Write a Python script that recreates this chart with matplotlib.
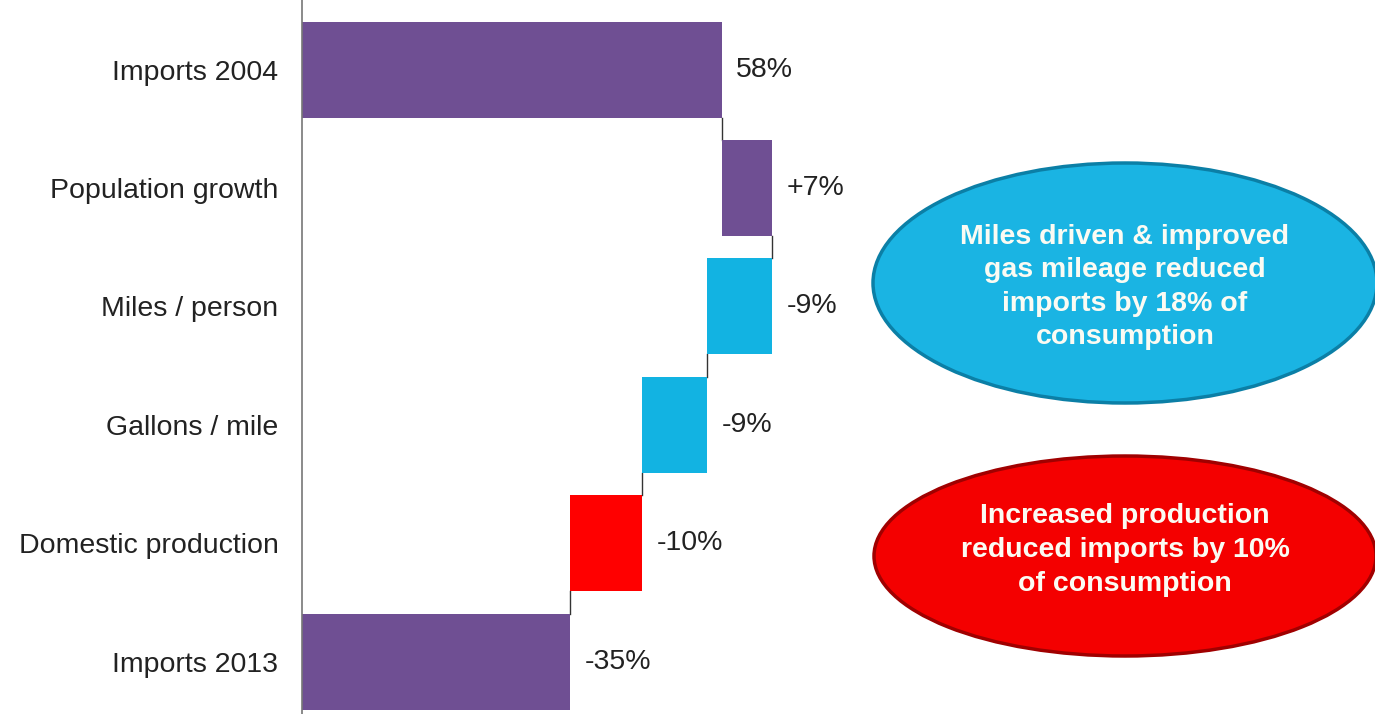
import numpy as np
import matplotlib.pyplot as plt
from matplotlib.patches import Ellipse

plt.rcParams['font.family'] = ['Liberation Sans', 'DejaVu Sans']

# waterfall data
categories = ['Imports 2004', 'Population growth', 'Miles / person',
              'Gallons / mile', 'Domestic production', 'Imports 2013']
changes = [58, 7, -9, -9, -10]
value_labels = ['58%', '+7%', '-9%', '-9%', '-10%', '-35%']
bar_colors = ['#6f4f93', '#6f4f93', '#12b3e2', '#12b3e2', '#ff0000', '#6f4f93']

bubble_texts = ['Miles driven & improved\ngas mileage reduced\nimports by 18% of\nconsumption',
                'Increased production\nreduced imports by 10%\nof consumption']
bubble_colors = ['#1ab4e3', '#f40000']
bubble_edges = ['#0b7fa6', '#a00000']

# starts / ends of each bar
ends = list(np.cumsum(changes))
starts = [0] + ends[:-1]
starts.append(0)
ends.append(ends[-1])

fig = plt.figure(figsize=(13.75, 7.14), dpi=100)
ax = fig.add_axes([302 / 1375, 0, 579 / 1375, 1])

y = np.arange(len(categories))
lefts = [min(s, e) for s, e in zip(starts, ends)]
widths = [abs(e - s) for s, e in zip(starts, ends)]
ax.barh(y, widths, left=lefts, height=0.81, color=bar_colors, zorder=2)

# connectors between bars
for i in range(len(categories) - 1):
    ax.plot([ends[i], ends[i]], [y[i] + 0.405, y[i + 1] - 0.405],
            color='#333333', lw=1, zorder=1)

for i, lab in enumerate(value_labels):
    xr = max(starts[i], ends[i])
    ax.text(xr + 2, y[i], lab, va='center', ha='left', fontsize=20.5, color='#222222')

ax.set_xlim(0, 80)
ax.set_ylim(5.44, -0.587)
ax.set_yticks(y)
ax.set_yticklabels(categories, fontsize=20.5, color='#222222')
ax.tick_params(axis='y', length=0, pad=17)
ax.set_xticks([])
for s in ['top', 'right', 'bottom']:
    ax.spines[s].set_visible(False)
ax.spines['left'].set_color('#777777')
ax.spines['left'].set_linewidth(1.2)
ax.patch.set_alpha(0)

# callout ellipses in figure pixel coordinates
bubble_centers = [(1125, 283), (1125, 556)]
bubble_sizes = [(504, 240), (502, 200)]
text_y = [287, 550]
for (cx, cy), (w, h), ty, txt, fc, ec in zip(bubble_centers, bubble_sizes, text_y,
                                              bubble_texts, bubble_colors, bubble_edges):
    e = Ellipse((cx / 1375, 1 - cy / 714), w / 1375, h / 714, transform=fig.transFigure,
                facecolor=fc, edgecolor=ec, lw=2.5)
    fig.patches.append(e)
    fig.text(cx / 1375, 1 - ty / 714, txt, ha='center', va='center', color='#fbfbf3',
             fontsize=20.5, fontweight='bold', linespacing=1.38)

fig.savefig('out.png', dpi=100)
